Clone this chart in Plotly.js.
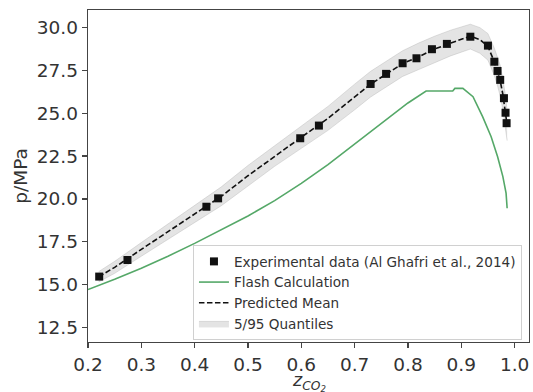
<!DOCTYPE html>
<html>
<head>
<meta charset="utf-8">
<script src="https://cdn.plot.ly/plotly-3.0.1.min.js"></script>
<style>html,body{margin:0;padding:0;background:#fff;}#chart{width:533px;height:392px;}</style>
</head>
<body>
<div id="chart"></div>
<script>
// Experimental data (Al Ghafri et al., 2014)
const expX = [0.221,0.274,0.422,0.444,0.598,0.633,0.730,0.759,0.790,0.816,0.845,0.873,0.917,0.950,0.962,0.968,0.973,0.980,0.983,0.985];
const expY = [15.46,16.43,19.54,20.03,23.54,24.28,26.71,27.30,27.92,28.21,28.74,29.05,29.47,28.95,28.01,27.47,26.95,25.88,25.03,24.42];

// Predicted mean and 5/95 quantiles
const predX  = [0.22,0.25,0.30,0.35,0.40,0.45,0.50,0.55,0.60,0.65,0.70,0.73,0.76,0.79,0.82,0.85,0.88,0.917,0.935,0.95,0.962,0.968,0.973,0.978,0.983,0.986];
const predMean = [15.45,16.0,17.05,18.1,19.1,20.15,21.35,22.5,23.6,24.7,25.95,26.7,27.3,27.9,28.3,28.75,29.1,29.5,29.3,28.9,28.0,27.45,26.9,26.1,25.1,24.3];
const predLow  = [15.15,15.65,16.65,17.65,18.6,19.6,20.75,21.9,22.95,24.0,25.2,25.95,26.55,27.15,27.55,27.95,28.35,28.75,28.5,28.1,27.2,26.6,26.0,25.2,24.2,23.4];
const predHigh = [15.75,16.35,17.45,18.55,19.6,20.7,21.95,23.1,24.2,25.4,26.7,27.45,28.05,28.65,29.1,29.5,29.85,30.2,30.0,29.65,28.8,28.3,27.8,27.0,26.0,25.1];

// Flash calculation
const flashX = [0.20,0.25,0.30,0.35,0.40,0.45,0.50,0.55,0.60,0.65,0.70,0.75,0.80,0.834,0.884,0.888,0.903,0.922,0.940,0.956,0.968,0.978,0.984,0.986];
const flashY = [14.7,15.3,15.95,16.65,17.4,18.2,19.0,19.9,20.9,22.0,23.2,24.4,25.6,26.3,26.3,26.45,26.45,25.97,24.8,23.63,22.47,21.3,20.33,19.45];

const xTicks = [0.2,0.3,0.4,0.5,0.6,0.7,0.8,0.9,1.0];
const xTickLabels = ["0.2","0.3","0.4","0.5","0.6","0.7","0.8","0.9","1.0"];
const yTicks = [12.5,15.0,17.5,20.0,22.5,25.0,27.5,30.0];
const yTickLabels = ["12.5","15.0","17.5","20.0","22.5","25.0","27.5","30.0"];
const xTitle = '<i>z<sub>CO<sub>2</sub></sub></i>';
const yTitle = 'p/MPa';

const FONT = "DejaVu Sans, sans-serif";
const traces = [
  {x: predX, y: predLow, type: 'scatter', mode: 'lines', line: {width: 0.6, color: 'rgba(170,170,170,0.6)'}, showlegend: false, hoverinfo: 'skip'},
  {x: predX, y: predHigh, type: 'scatter', mode: 'lines', fill: 'tonexty', fillcolor: 'rgba(205,205,205,0.55)', line: {width: 0.6, color: 'rgba(170,170,170,0.6)'}, name: '5/95 Quantiles', legendrank: 4},
  {x: flashX, y: flashY, type: 'scatter', mode: 'lines', line: {color: '#55a868', width: 1.6}, name: 'Flash Calculation', legendrank: 2},
  {x: predX, y: predMean, type: 'scatter', mode: 'lines', line: {color: '#111', width: 1.6, dash: '5.5px,2.5px'}, name: 'Predicted Mean', legendrank: 3},
  {x: expX, y: expY, type: 'scatter', mode: 'markers', marker: {symbol: 'square', size: 8, color: '#111'}, name: 'Experimental data (Al Ghafri et al., 2014)', legendrank: 1}
];

const axisCommon = {
  showgrid: false, zeroline: false, showline: true, mirror: true,
  linecolor: '#444', linewidth: 1.3, ticks: 'outside', ticklen: 5, tickwidth: 1.3, tickcolor: '#444',
  tickfont: {family: FONT, size: 18.5, color: '#333'}
};

const layout = {
  width: 533, height: 392,
  margin: {l: 88, r: 4, t: 10, b: 50},
  paper_bgcolor: '#fff', plot_bgcolor: '#fff',
  font: {family: FONT, color: '#333'},
  xaxis: Object.assign({}, axisCommon, {
    range: [0.2, 1.027], tickvals: xTicks, ticktext: xTickLabels
  }),
  yaxis: Object.assign({}, axisCommon, {
    range: [11.64, 31.03], tickvals: yTicks, ticktext: yTickLabels,
    title: {text: yTitle, font: {family: FONT, size: 18.5, color: '#333'}, standoff: 4}
  }),
  annotations: [{
    text: xTitle, xref: 'paper', yref: 'paper', x: 0.5, y: -0.077,
    xanchor: 'center', yanchor: 'top', showarrow: false,
    font: {family: FONT, size: 17.5, color: '#333'}
  }],
  legend: {
    x: 0.238, y: 0.292, xanchor: 'left', yanchor: 'top',
    bgcolor: 'rgba(255,255,255,0.85)', bordercolor: '#d0d0d0', borderwidth: 1,
    font: {family: FONT, size: 13.6, color: '#333'},
    traceorder: 'normal'
  },
  showlegend: true
};

Plotly.newPlot('chart', traces, layout, {displayModeBar: false, staticPlot: true});
</script>
</body>
</html>
